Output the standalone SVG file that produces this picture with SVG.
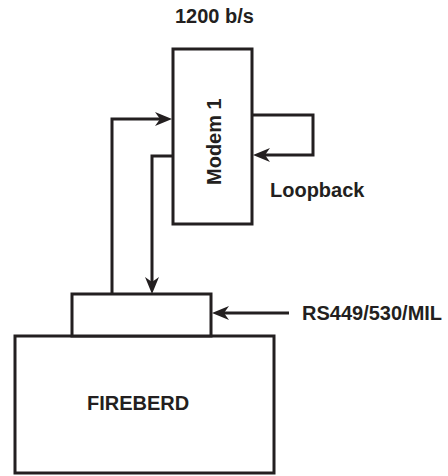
<svg xmlns="http://www.w3.org/2000/svg" width="448" height="476" viewBox="0 0 448 476">
<style>
.box{fill:#fff;stroke:#231f20;stroke-width:3}
.ln{fill:none;stroke:#231f20;stroke-width:3}
.t{font-family:"Liberation Sans",Arial,sans-serif;font-weight:bold;font-size:20px;fill:#231f20}
</style>
<defs>
<marker id="ah" markerUnits="userSpaceOnUse" markerWidth="18" markerHeight="16" refX="9" refY="8" orient="auto">
<path d="M0,1 L17,8 L0,15 L5,8 Z" fill="#231f20"/>
</marker>
</defs>
<rect width="448" height="476" fill="#fff"/>
<g id="fireberd">
<rect class="box" x="15" y="336" width="259" height="137"/>
<text class="t" x="87" y="410">FIREBERD</text>
</g>
<g id="interface">
<rect class="box" x="72" y="294" width="139" height="42"/>
</g>
<g id="modem1">
<rect class="box" x="173" y="49" width="79" height="175"/>
<text class="t" transform="translate(221,185) rotate(-90)">Modem 1</text>
</g>
<g id="labels">
<text class="t" x="175" y="23">1200 b/s</text>
<text class="t" x="270" y="197">Loopback</text>
<text class="t" x="302" y="320">RS449/530/MIL</text>
</g>
<g id="connectors">
<path class="ln" d="M112,294 V119 H164" marker-end="url(#ah)"/>
<path class="ln" d="M173,156 H152 V286" marker-end="url(#ah)"/>
<path class="ln" d="M252,115 H313 V155 H261" marker-end="url(#ah)"/>
<path class="ln" d="M289,313 H220" marker-end="url(#ah)"/>
</g>
</svg>
